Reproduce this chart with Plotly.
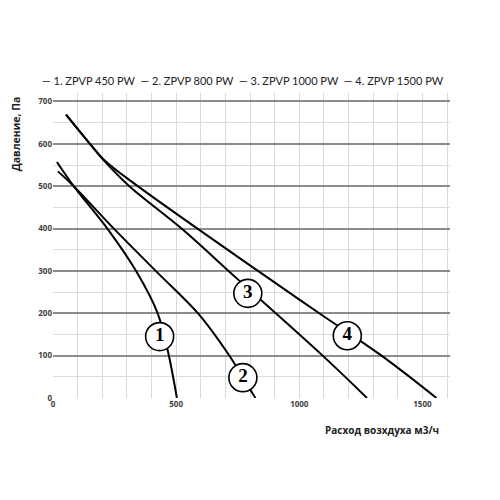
import plotly.graph_objects as go

# Series names
names = ["1. ZPVP 450 PW", "2. ZPVP 800 PW", "3. ZPVP 1000 PW", "4. ZPVP 1500 PW"]

# Airflow (m3/h) and pressure (Pa)
c1_x = [16, 84, 223, 338, 425, 467, 503]
c1_y = [557, 500, 398, 299, 200, 109, 0]

c2_x = [20, 84, 250, 419, 590, 717, 771, 822]
c2_y = [535, 500, 398, 299, 199, 99, 48, 0]

c3_x = [53, 150, 211, 310, 522, 745, 1095, 1275]
c3_y = [669, 600, 558, 500, 400, 283, 100, 0]

c4_x = [53, 150, 211, 340, 825, 1084, 1334, 1557]
c4_y = [669, 600, 560, 502, 303, 199, 100, 0]

# Circle label positions
label_text = ["1", "2", "3", "4"]
label_x = [433, 771, 791, 1195]
label_y = [145, 48, 247, 147]

x_ticks = [0, 500, 1000, 1500]
y_ticks = [0, 100, 200, 300, 400, 500, 600, 700]

fig = go.Figure()
for xs, ys, nm in zip([c1_x, c2_x, c3_x, c4_x], [c1_y, c2_y, c3_y, c4_y], names):
    fig.add_trace(go.Scatter(x=xs, y=ys, mode="lines", name=nm,
                             line=dict(color="black", width=2, shape="spline", smoothing=1.0),
                             showlegend=False, hoverinfo="skip"))

fig.add_trace(go.Scatter(x=label_x, y=label_y, mode="markers+text", text=label_text,
                         textposition="middle center",
                         marker=dict(size=28, color="white", line=dict(color="black", width=1.6)),
                         textfont=dict(family="Liberation Serif", size=19, color="black", weight="bold"),
                         showlegend=False, hoverinfo="skip"))

legend_text = "  ".join("— " + n for n in names)
fig.add_annotation(text=legend_text, xref="paper", yref="paper", x=0.479, y=1.0, yshift=13,
                   xanchor="center", yanchor="middle", showarrow=False,
                   font=dict(family="Lato", size=11, color="#222222"))

fig.add_annotation(text="<b>Давление, Па</b>", xref="paper", yref="paper",
                   x=-0.094, y=0.867, textangle=-90, showarrow=False,
                   xanchor="center", yanchor="middle",
                   font=dict(family="Open Sans", size=10.5, color="#222222"))
fig.add_annotation(text="<b>Расход возхдуха м3/ч</b>", xref="paper", yref="paper",
                   x=0.829, y=-0.105, showarrow=False, xanchor="center", yanchor="middle",
                   font=dict(family="Open Sans", size=10, color="#222222"))

fig.update_layout(
    width=492, height=492,
    margin=dict(l=45, r=50, t=85, b=102),
    paper_bgcolor="white", plot_bgcolor="white",
    xaxis=dict(range=[0, 1612], tickvals=x_ticks, showgrid=True, gridcolor="#d9d9d9", gridwidth=1,
               minor=dict(dtick=100, showgrid=True, gridcolor="#d9d9d9", gridwidth=1),
               zeroline=False, showline=False,
               tickfont=dict(family="Open Sans", size=8, color="#404040", weight="bold"),
               ticks="", ticklen=0),
    yaxis=dict(range=[0, 720], tickvals=y_ticks, showgrid=True, gridcolor="#8c8c8c", gridwidth=1.5,
               minor=dict(dtick=50, showgrid=True, gridcolor="#dcdcdc", gridwidth=1),
               zeroline=False, showline=False,
               tickfont=dict(family="Open Sans", size=8, color="#404040", weight="bold"),
               ticks="", ticklen=3, tickcolor="white"),
)

fig.write_html("out.html")
